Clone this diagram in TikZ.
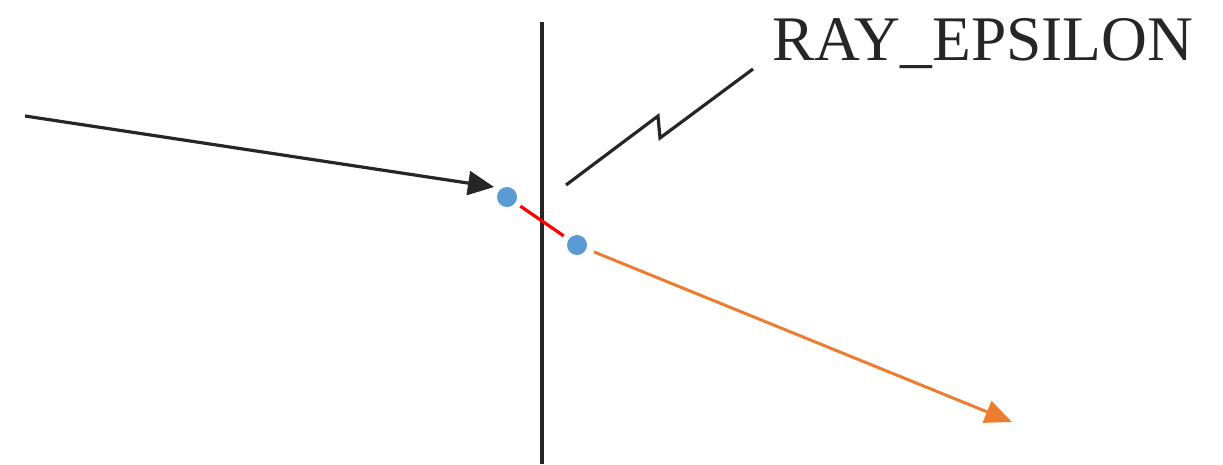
\documentclass[tikz,border=0pt]{standalone}
\usepackage{fontspec}
\setmainfont{Liberation Serif}
\usetikzlibrary{arrows.meta,positioning}
\definecolor{inkgray}{HTML}{262626}
\definecolor{dotblue}{HTML}{5B9BD5}
\definecolor{rayorange}{HTML}{ED7D31}

\begin{document}
\begin{tikzpicture}[
    x=1pt,y=-1pt,
    dot/.style={circle,fill=dotblue,draw=none,minimum size=20pt,inner sep=0pt},
    ray/.style={-{Triangle[length=26pt,width=24pt]},draw=inkgray,line width=3.2pt},
    outray/.style={-{Triangle[length=27pt,width=23pt]},draw=rayorange,line width=3pt},
    eps/.style={draw=red,line width=3.2pt},
    wall/.style={draw=inkgray,line width=3.2pt},
    lbl/.style={inner sep=0pt,text=inkgray,font=\fontsize{63.5}{63.5}\selectfont}
  ]
    \useasboundingbox (0,0) rectangle (1223,464);
    \coordinate (wt) at (542,22);\coordinate (wb) at (542,464);
    \coordinate (src) at (25,116);\coordinate (tip) at (494,187);
    \coordinate (end) at (1012,422);
    \node[dot] (d1) at (507,197) {};
    \node[dot] (d2) at (577,245) {};
    \node[lbl,anchor=base west] (eps) at (772,60) {RAY\_EPSILON};
    \coordinate (z0) at (566,185);\coordinate (z1) at (658,116);
    \coordinate (z2) at (660,138);\coordinate (z3) at (753,69);
    \draw[wall] (wt)--(wb);
    \draw[ray] (src)--(tip);
    \draw[eps,shorten <=6pt,shorten >=6pt] (d1)--(d2);
    \draw[outray,shorten <=8pt] (d2)--(end);
    \draw[wall,line join=miter] (z0)--(z1)--(z2)--(z3);
  \end{tikzpicture}
\end{document}
